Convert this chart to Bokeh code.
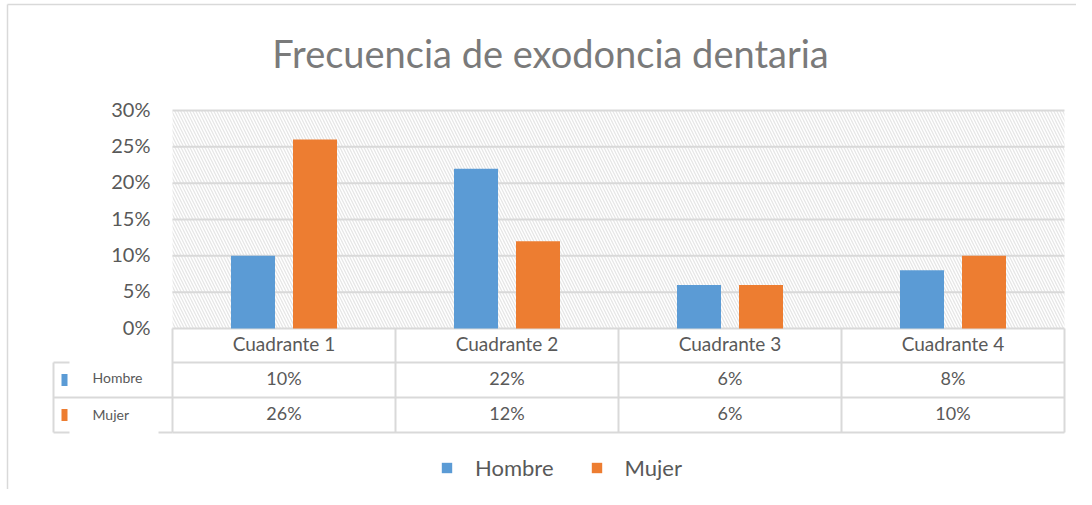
from bokeh.plotting import figure
from bokeh.models import Range1d, Legend, LegendItem, ColumnDataSource
from bokeh.core.properties import value
from bokeh.embed import file_html
from bokeh.resources import INLINE

# ---- data ----
categories = ["Cuadrante 1", "Cuadrante 2", "Cuadrante 3", "Cuadrante 4"]
series_names = ["Hombre", "Mujer"]
hombre = [0.10, 0.22, 0.06, 0.08]
mujer = [0.26, 0.12, 0.06, 0.10]
y_ticks = [0.0, 0.05, 0.10, 0.15, 0.20, 0.25, 0.30]
title_text = "Frecuencia de exodoncia dentaria"

BLUE = "#5B9BD5"
ORANGE = "#ED7D31"
TXT = "#595959"
GRID = "#d9d9d9"
FONT = value("Lato")

W, H = 1076, 489
X0, PXC = 172.0, 223.0          # canvas x of category 0, px per category
Y0, PXY = 328.0, 218.0 / 0.30   # canvas y of value 0, px per unit


def cx(px):
    return (px - X0) / PXC


def cy(py):
    return (Y0 - py) / PXY


UP = 2.0 / PXY  # small upward nudge for text centring

p = figure(width=W, height=H, output_backend="svg", toolbar_location=None,
           x_range=Range1d(cx(0), cx(W)), y_range=Range1d(cy(H), cy(0)),
           x_axis_location=None, y_axis_location=None,
           min_border=0, outline_line_color=None)
p.grid.visible = False
p.background_fill_color = "white"
p.border_fill_color = "white"

n = len(categories)
centers = [i + 0.5 for i in range(n)]
ymax = y_ticks[-1]

# hatched plot area
p.quad(left=[0], right=[n], bottom=[0], top=[ymax], fill_color="white",
       line_color=None, hatch_pattern="\\", hatch_color="#e6e6e6",
       hatch_scale=6, hatch_weight=1.3)

# gridlines
p.segment(x0=[0] * len(y_ticks), x1=[n] * len(y_ticks), y0=y_ticks, y1=y_ticks,
          line_color=GRID, line_width=2)

# y tick labels
p.text(x=[cx(150)] * len(y_ticks), y=[t + UP for t in y_ticks],
       text=[f"{int(round(t * 100))}%" for t in y_ticks],
       text_align="right", text_baseline="middle", text_font=FONT,
       text_font_size="20px", text_color=TXT)

# bars
off = 31 / PXC
bw = 44 / PXC
src = ColumnDataSource(dict(xh=[c - off for c in centers], xm=[c + off for c in centers],
                            h=hombre, m=mujer))
rh = p.vbar(x="xh", top="h", width=bw, bottom=0, source=src, fill_color=BLUE, line_color=None)
rm = p.vbar(x="xm", top="m", width=bw, bottom=0, source=src, fill_color=ORANGE, line_color=None)

# data table
r_top, r1, r2, r3 = 0.0, cy(362), cy(397), cy(432)
tl = dict(line_color=GRID, line_width=2)
p.segment(x0=[0, 0, 0], x1=[n, n, n], y0=[r1, r2, r3], y1=[r1, r2, r3], **tl)
p.segment(x0=list(range(n + 1)), x1=list(range(n + 1)), y0=[r_top] * (n + 1),
          y1=[r3] * (n + 1), **tl)
# left legend box of the table
xl = cx(53)
p.segment(x0=[xl], x1=[xl], y0=[r1], y1=[r3], **tl)
p.segment(x0=[xl, xl, xl, cx(158)], x1=[cx(69), 0, cx(69), 0],
          y0=[r1, r2, r3, r3], y1=[r1, r2, r3, r3], **tl)

p.text(x=centers, y=[(r_top + r1) / 2 + UP] * n, text=categories, text_align="center",
       text_baseline="middle", text_font=FONT, text_font_size="19px", text_color=TXT)
p.text(x=centers, y=[(r1 + r2) / 2 + UP] * n, text=[f"{int(round(v * 100))}%" for v in hombre],
       text_align="center", text_baseline="middle", text_font=FONT,
       text_font_size="18px", text_color=TXT)
p.text(x=centers, y=[(r2 + r3) / 2 + UP] * n, text=[f"{int(round(v * 100))}%" for v in mujer],
       text_align="center", text_baseline="middle", text_font=FONT,
       text_font_size="18px", text_color=TXT)

# table row keys
p.rect(x=[cx(64)] * 2, y=[(r1 + r2) / 2, (r2 + r3) / 2], width=6, height=12,
       width_units="screen", height_units="screen", fill_color=[BLUE, ORANGE], line_color=None)
p.text(x=[cx(92)] * 2, y=[(r1 + r2) / 2 + 1.5 * UP, (r2 + r3) / 2 + 0.5 * UP], text=series_names,
       text_align="left", text_baseline="middle", text_font=FONT,
       text_font_size="14px", text_color=TXT)

# title
p.text(x=[cx(550)], y=[cy(55) + 1.5 * UP], text=[title_text], text_align="center",
       text_baseline="middle", text_font=FONT, text_font_size="38px", text_color="#7a7a7a")

# outer border (left and top)
p.segment(x0=[cx(7), cx(7)], x1=[cx(7), cx(W)], y0=[cy(H), cy(4)], y1=[cy(4), cy(4)],
          line_color="#d9d9d9", line_width=1.5)

legend = Legend(items=[LegendItem(label=series_names[0], renderers=[rh]),
                       LegendItem(label=series_names[1], renderers=[rm])],
                orientation="horizontal", location=(440, 8),
                glyph_width=13, glyph_height=13, label_height=18, label_standoff=22,
                spacing=36, padding=0, margin=0, border_line_color=None,
                background_fill_alpha=0, label_text_font="Lato",
                label_text_font_size="22px", label_text_color=TXT)
p.add_layout(legend)

open("out.html", "w").write(file_html(p, INLINE))
